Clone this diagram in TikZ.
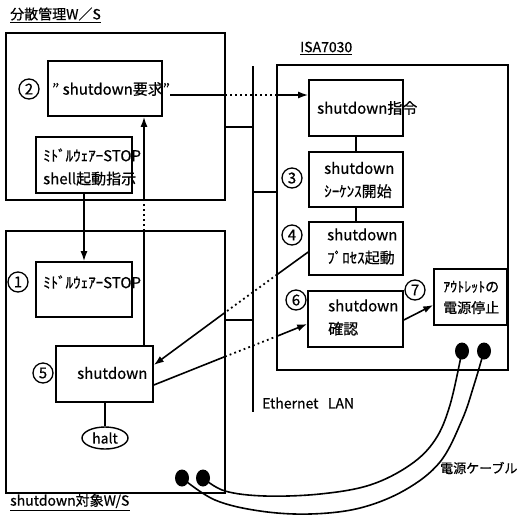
\documentclass[tikz,border=0pt]{standalone}
\usepackage{fontspec}
\setmainfont{Noto Sans CJK JP}[FakeBold=0.6]
\usetikzlibrary{arrows.meta,shapes.geometric}
\begin{document}
\begin{tikzpicture}[x=1pt,y=-1pt,
  box/.style={draw, line width=1.6pt, inner sep=0pt},
  txt/.style={inner sep=0pt, anchor=west, align=left, font=\fontsize{15}{23}\selectfont},
  num/.style={draw, circle, line width=1.3pt, inner sep=0pt, minimum size=20pt, font=\fontsize{15}{15}\selectfont},
  ln/.style={line width=1.6pt},
  dots/.style={line width=1.8pt, dash pattern=on 1.8pt off 3.2pt},
  arr/.style={-{Latex[length=10pt,width=7pt]}},
  plug/.style={ellipse, fill=black, inner sep=0pt, minimum width=14pt, minimum height=17pt},
  uline/.style={line width=1.2pt}
]
\useasboundingbox (0,0) rectangle (529,520);
% titles
\node[txt, font=\fontsize{14}{14}\selectfont] (ttl1) at (10,14) {分散管理W／S};
\draw[uline] ([yshift=-2pt]ttl1.south west) -- ([yshift=-2pt]ttl1.south east);
\node[txt, font=\fontsize{14}{14}\selectfont] (ttl2) at (10,501) {shutdown対象W/S};
\draw[uline] ([yshift=-2pt]ttl2.south west) -- ([yshift=-2pt]ttl2.south east);
\node[txt, font=\fontsize{14}{14}\selectfont] (ttl3) at (300,47) {ISA7030};
\draw[uline] ([yshift=-2pt]ttl3.south west) -- ([yshift=-2pt]ttl3.south east);
% big boxes
\node[box, minimum width=219pt, minimum height=167pt] (ws1) at (115.5,116.5) {};
\node[box, minimum width=219pt, minimum height=262pt] (ws2) at (115.5,362) {};
\node[box, minimum width=231pt, minimum height=305pt] (isa) at (392.5,217.5) {};
% small boxes
\node[box, minimum width=114pt, minimum height=55pt] (b2) at (105,88.5) {};
\node[box, minimum width=96pt, minimum height=56pt] (bB) at (84,165) {};
\node[box, minimum width=96pt, minimum height=55pt] (b1) at (84,289.5) {};
\node[box, minimum width=97pt, minimum height=56pt] (b5) at (104.5,374) {};
\node[box, minimum width=94pt, minimum height=56pt] (bc) at (356,108) {};
\node[box, minimum width=94pt, minimum height=55pt] (b3) at (356,179.5) {};
\node[box, minimum width=94pt, minimum height=53pt] (b4) at (356,248.5) {};
\node[box, minimum width=95pt, minimum height=56pt] (b6) at (355.5,319) {};
\node[box, minimum width=73pt, minimum height=56pt] (b7) at (470.5,297) {};
\node[draw, ellipse, line width=1.4pt, inner sep=0pt, minimum width=46pt, minimum height=22pt, font=\fontsize{14}{14}\selectfont] (halt) at (105,438) {halt};
% texts
\node[txt] (t2) at (52,89) {” shutdown要求”};
\node[txt] (tB) at (43,167) {ﾐﾄﾞﾙｳｪｱｰSTOP\\shell起動指示};
\node[txt] (t1) at (43,282) {ﾐﾄﾞﾙｳｪｱｰSTOP};
\node[txt] (t5) at (77,373) {shutdown};
\node[txt] (tc) at (317,108) {shutdown指令};
\node[txt] (t3) at (324,180) {shutdown\\ｼｰｹﾝｽ開始};
\node[txt] (t4) at (327,246.5) {shutdown\\ﾌﾟﾛｾｽ起動};
\node[txt] (t6) at (328,317.5) {shutdown\\確認};
\node[txt, font=\fontsize{14}{21}\selectfont] (t7) at (443,297.5) {ｱｳﾄﾚｯﾄの\\電源停止};
\node[txt, font=\fontsize{14}{14}\selectfont] (teth) at (262,403) {Ethernet\ \ \ LAN};
\node[txt, font=\fontsize{13}{13}\selectfont] (tcab) at (440,468) {電源ケーブル};
% numbers
\node[num] (n2) at (29,89) {2};
\node[num] (n1) at (18,282) {1};
\node[num] (n5) at (43,373) {5};
\node[num] (n3) at (292,178) {3};
\node[num] (n4) at (292,235) {4};
\node[num] (n6) at (296,300) {6};
\node[num] (n7) at (415,290) {7};
% plugs
\node[plug] (pa) at (182,478) {};
\node[plug] (pb) at (203,478) {};
\node[plug] (pc) at (462,351) {};
\node[plug] (pd) at (484,351) {};
% ethernet
\coordinate (ethT) at (253,66);
\coordinate (ethB) at (253,412);
\draw[ln] (ethT) -- (ethB);
\coordinate (s1) at (253,127);
\coordinate (s2) at (253,192);
\coordinate (s3) at (253,320);
\draw[ln] (ws1.east |- s1) -- (s1);
\draw[ln] (s2) -- (isa.west |- s2);
\draw[ln] (ws2.east |- s3) -- (s3);
% vertical connectors
\draw[ln, arr] (bB.south) -- (b1.north);
\draw[ln] (bc.south) -- (b3.north);
\draw[ln] (b3.south) -- (b4.north);
\draw[ln] (b5.south -| halt.north) -- (halt.north);
\coordinate (v1) at (144,231);
\coordinate (v2) at (144,200);
\draw[ln] (b5.north -| v1) -- (v1);
\draw[dots] (v1) -- (v2);
\draw[ln, arr] (v2) -- (b2.south -| v2);
% request to command
\coordinate (h1) at (225,95);
\coordinate (h2) at (277,95);
\draw[ln] (t2.east |- h1) -- (h1);
\draw[dots] (h1) -- (h2);
\draw[ln, arr] (h2) -- (bc.west |- h2);
% box4 -> box5
\coordinate (d1) at (277,274.6);
\coordinate (d2) at (225,312.5);
\draw[ln] ([yshift=-3.5pt]b4.west) -- (d1);
\draw[dots] (d1) -- (d2);
\draw[ln, arr] (d2) -- ([yshift=9pt]b5.east);
% box5 -> box6
\coordinate (e1) at (225,356.6);
\coordinate (e2) at (277,336.2);
\draw[ln] ([yshift=-11pt]b5.east) -- (e1);
\draw[dots] (e1) -- (e2);
\draw[ln, arr] (e2) -- ([yshift=-5pt]b6.west);
% box6 -> box7
\draw[ln, arr] ([yshift=-1pt]b6.east) -- ([yshift=-8pt]b7.west);
% cables
\draw[ln] plot[smooth, tension=0.6] coordinates {(pb.center) (225,491) (265,496) (320,494) (370,485) (410,465) (435,440) (450,405) (pc.center)};
\draw[ln] plot[smooth, tension=0.6] coordinates {(pa.center) (215,500) (260,511) (310,514) (360,508) (405,490) (440,462) (462,420) (474,385) (pd.center)};
\end{tikzpicture}
\end{document}
